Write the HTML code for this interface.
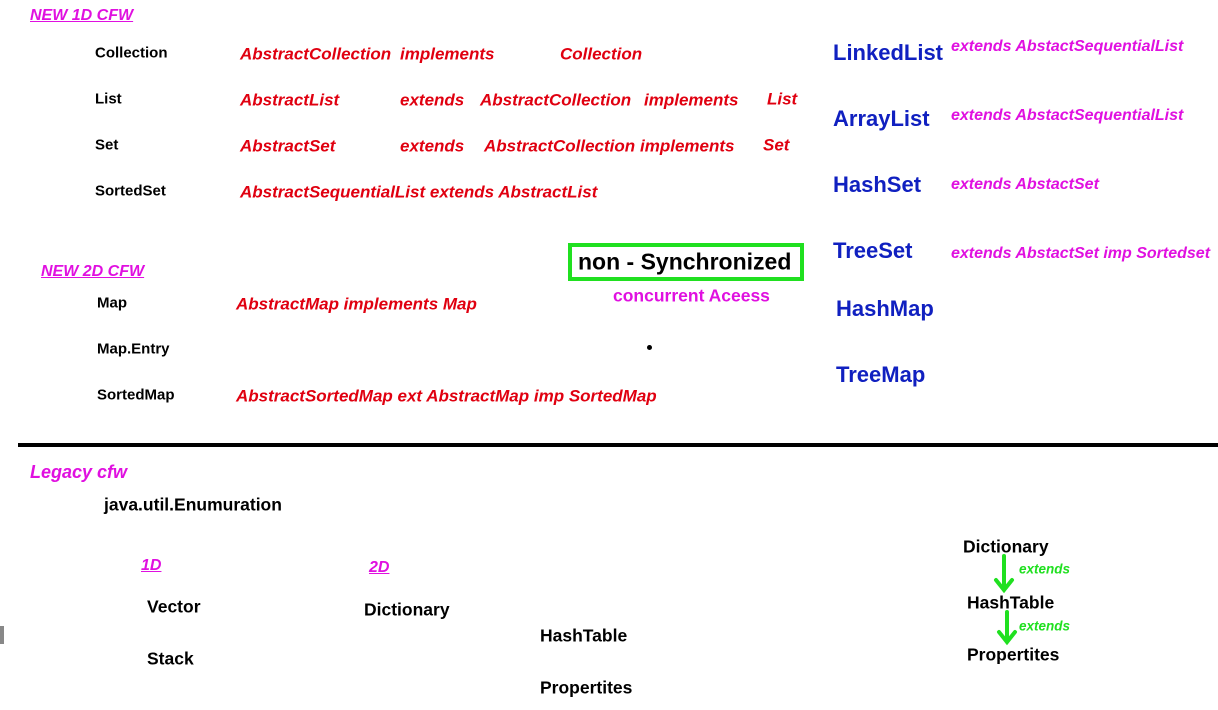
<!DOCTYPE html>
<html><head><meta charset="utf-8"><style>
html,body{margin:0;padding:0;background:#fff;}
body{width:1218px;height:710px;position:relative;overflow:hidden;font-family:"Liberation Sans",sans-serif;}
.t{position:absolute;line-height:1;white-space:nowrap;transform:translateY(calc(-50% + 1px));}
.k{color:#000;font-size:15px;font-weight:bold;}
.r{color:#e00010;font-size:17px;font-style:italic;font-weight:bold;}
.m{color:#e010e0;font-size:16px;font-style:italic;font-weight:bold;}
.mu{text-decoration:underline;}
.b{color:#1020c0;font-size:22px;font-weight:bold;}
.g{color:#20e020;font-size:13.5px;font-style:italic;font-weight:bold;}
.kb{color:#000;font-size:17.5px;font-weight:bold;}
</style></head><body>
<div class="t m mu" style="left:30px;top:15px">NEW 1D CFW</div>
<div class="t k" style="left:95px;top:52px">Collection</div>
<div class="t k" style="left:95px;top:98px">List</div>
<div class="t k" style="left:95px;top:144px">Set</div>
<div class="t k" style="left:95px;top:190px">SortedSet</div>
<div class="t r" style="left:240px;top:53px">AbstractCollection</div>
<div class="t r" style="left:400px;top:53px">implements</div>
<div class="t r" style="left:560px;top:53px">Collection</div>
<div class="t r" style="left:240px;top:99px">AbstractList</div>
<div class="t r" style="left:400px;top:99px">extends</div>
<div class="t r" style="left:480px;top:99px">AbstractCollection</div>
<div class="t r" style="left:644px;top:99px">implements</div>
<div class="t r" style="left:767px;top:98px">List</div>
<div class="t r" style="left:240px;top:145px">AbstractSet</div>
<div class="t r" style="left:400px;top:145px">extends</div>
<div class="t r" style="left:484px;top:145px">AbstractCollection</div>
<div class="t r" style="left:640px;top:145px">implements</div>
<div class="t r" style="left:763px;top:144px">Set</div>
<div class="t r" style="left:240px;top:191px">AbstractSequentialList extends AbstractList</div>

<div class="t b" style="left:833px;top:52px">LinkedList</div>
<div class="t b" style="left:833px;top:118px">ArrayList</div>
<div class="t b" style="left:833px;top:184px">HashSet</div>
<div class="t b" style="left:833px;top:250px">TreeSet</div>
<div class="t b" style="left:836px;top:308px">HashMap</div>
<div class="t b" style="left:836px;top:374px">TreeMap</div>
<div class="t m" style="left:951px;top:46px">extends AbstactSequentialList</div>
<div class="t m" style="left:951px;top:115px">extends AbstactSequentialList</div>
<div class="t m" style="left:951px;top:184px">extends AbstactSet</div>
<div class="t m" style="left:951px;top:253px">extends AbstactSet imp Sortedset</div>

<div class="t m mu" style="left:41px;top:271px">NEW 2D CFW</div>
<div class="t k" style="left:97px;top:302px">Map</div>
<div class="t k" style="left:97px;top:348px">Map.Entry</div>
<div class="t k" style="left:97px;top:394px">SortedMap</div>
<div class="t r" style="left:236px;top:303px">AbstractMap implements Map</div>
<div class="t r" style="left:236px;top:395px">AbstractSortedMap ext AbstractMap imp SortedMap</div>

<div style="position:absolute;left:568px;top:243px;width:228px;height:30px;border:4px solid #20e020;"></div>
<div class="t" style="left:578px;top:261px;font-size:23px;font-weight:bold;color:#000">non - Synchronized</div>
<div class="t" style="left:613px;top:295px;font-size:17.5px;font-weight:bold;color:#e010e0">concurrent Aceess</div>
<div style="position:absolute;left:647px;top:345px;width:5px;height:5px;border-radius:50%;background:#000"></div>

<div style="position:absolute;left:18px;top:443px;width:1200px;height:4px;background:#000"></div>

<div class="t m" style="left:30px;top:471px;font-size:18px">Legacy cfw</div>
<div class="t kb" style="left:104px;top:504px">java.util.Enumuration</div>
<div class="t m mu" style="left:141px;top:565px">1D</div>
<div class="t m mu" style="left:369px;top:567px">2D</div>
<div class="t kb" style="left:147px;top:606px">Vector</div>
<div class="t kb" style="left:147px;top:658px">Stack</div>
<div class="t kb" style="left:364px;top:609px">Dictionary</div>
<div class="t kb" style="left:540px;top:635px">HashTable</div>
<div class="t kb" style="left:540px;top:687px">Propertites</div>
<div style="position:absolute;left:0;top:626px;width:4px;height:18px;background:#888"></div>

<div class="t kb" style="left:963px;top:546px">Dictionary</div>
<div class="t kb" style="left:967px;top:602px">HashTable</div>
<div class="t kb" style="left:967px;top:654px">Propertites</div>
<svg style="position:absolute;left:0;top:0" width="1218" height="710">
<g stroke="#20e020" stroke-width="4" fill="none" stroke-linecap="round">
<path d="M1004 556 V590 M996 580 L1004 590 L1012 580"/>
<path d="M1007 612 V642 M999 632 L1007 642 L1015 632"/>
</g></svg>
<div class="t g" style="left:1019px;top:568px">extends</div>
<div class="t g" style="left:1019px;top:625px">extends</div>
</body></html>
